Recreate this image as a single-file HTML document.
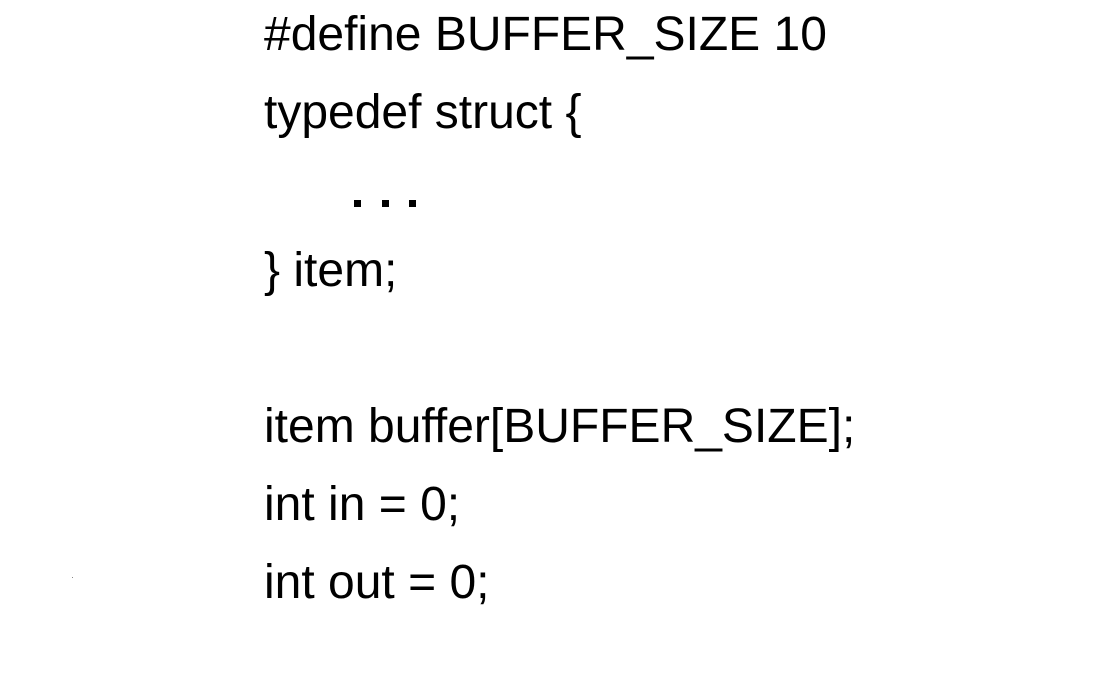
<!DOCTYPE html>
<html><head><meta charset="utf-8"><style>
html,body{margin:0;padding:0;background:#fff;width:1114px;height:692px;overflow:hidden;position:relative}
.l{position:absolute;left:264px;font-family:"Liberation Sans",Arial,sans-serif;font-size:48px;line-height:48px;color:#000;white-space:pre;letter-spacing:0px}
.d{position:absolute;width:7px;height:7px;background:#000}
</style></head><body>
<div class="l" style="top:11px">#define BUFFER_SIZE 10</div>
<div class="l" style="top:89px">typedef struct {</div>
<div class="d" style="left:354px;top:200px"></div>
<div class="d" style="left:382px;top:200px"></div>
<div class="d" style="left:409px;top:200px"></div>
<div class="l" style="top:247px">} item;</div>
<div class="l" style="top:403px">item buffer[BUFFER_SIZE];</div>
<div class="l" style="top:481px">int in = 0;</div>
<div class="l" style="top:559px">int out = 0;</div>
<div style="position:absolute;left:72px;top:577px;width:1px;height:1px;background:#888"></div>
</body></html>
